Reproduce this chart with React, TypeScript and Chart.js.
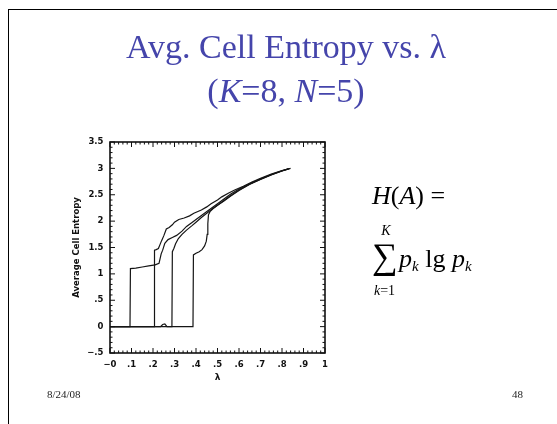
import React, { useEffect, useRef } from "react";
import { Chart, registerables } from "chart.js";

Chart.register(...registerables);

// Run A: jumps near lambda 0.093
const lambdaA = [0, 0.093, 0.095, 0.12, 0.15, 0.18, 0.21, 0.228, 0.238, 0.245, 0.255, 0.27, 0.29, 0.31, 0.335, 0.356, 0.38, 0.4, 0.43, 0.46, 0.5, 0.53, 0.56, 0.6, 0.65, 0.7, 0.75, 0.8, 0.835];
const entropyA = [0, 0, 1.1, 1.11, 1.13, 1.15, 1.17, 1.2, 1.38, 1.45, 1.58, 1.65, 1.69, 1.73, 1.81, 1.9, 1.97, 2.03, 2.12, 2.21, 2.33, 2.42, 2.51, 2.61, 2.71, 2.8, 2.885, 2.955, 2.995];

// Run B: jumps near lambda 0.205 (top branch)
const lambdaB = [0, 0.205, 0.207, 0.215, 0.225, 0.232, 0.24, 0.25, 0.262, 0.275, 0.29, 0.3, 0.32, 0.345, 0.37, 0.39, 0.425, 0.45, 0.47, 0.5, 0.52, 0.55, 0.58, 0.62, 0.66, 0.7, 0.75, 0.8, 0.84];
const entropyB = [0, 0, 1.45, 1.46, 1.48, 1.55, 1.63, 1.72, 1.85, 1.88, 1.93, 1.98, 2.03, 2.06, 2.1, 2.15, 2.21, 2.27, 2.33, 2.4, 2.46, 2.53, 2.59, 2.66, 2.74, 2.81, 2.89, 2.96, 3.0];

// Run C: small bump near 0.25, jumps near 0.29
const lambdaC = [0, 0.235, 0.245, 0.255, 0.265, 0.288, 0.29, 0.297, 0.305, 0.318, 0.335, 0.356, 0.38, 0.4, 0.425, 0.45, 0.475, 0.5, 0.53, 0.56, 0.6, 0.65, 0.7, 0.75, 0.8, 0.83];
const entropyC = [0, 0, 0.04, 0.05, 0, 0, 1.42, 1.48, 1.57, 1.67, 1.75, 1.83, 1.91, 1.98, 2.07, 2.15, 2.23, 2.3, 2.38, 2.47, 2.58, 2.7, 2.79, 2.875, 2.95, 2.99];

// Run D: jumps near 0.388
const lambdaD = [0, 0.386, 0.388, 0.4, 0.415, 0.428, 0.44, 0.448, 0.452, 0.455, 0.458, 0.465, 0.48, 0.5, 0.53, 0.56, 0.6, 0.65, 0.7, 0.75, 0.8, 0.83];
const entropyD = [0, 0, 1.36, 1.39, 1.42, 1.46, 1.53, 1.62, 1.75, 1.95, 2.12, 2.18, 2.24, 2.3, 2.39, 2.48, 2.59, 2.7, 2.795, 2.88, 2.95, 2.99];

const xTickValues = [0, 0.1, 0.2, 0.3, 0.4, 0.5, 0.6, 0.7, 0.8, 0.9, 1];
const xTickLabels = ["−0", ".1", ".2", ".3", ".4", ".5", ".6", ".7", ".8", ".9", "1"];
const yTickValues = [-0.5, 0, 0.5, 1, 1.5, 2, 2.5, 3, 3.5];
const yTickLabels = ["−.5", "0", ".5", "1", "1.5", "2", "2.5", "3", "3.5"];
const xMinorStep = 0.02;
const yMinorStep = 0.1;

const toPoints = (xs: number[], ys: number[]) => xs.map((x, i) => ({ x, y: ys[i] }));

function labelFor(values: number[], labels: string[], v: number) {
  const i = values.findIndex((t) => Math.abs(t - v) < 1e-6);
  return i >= 0 ? labels[i] : "";
}

const frameTicksPlugin = {
  id: "frameTicks",
  afterDatasetsDraw(chart: any) {
    const { ctx, chartArea, scales } = chart;
    const xs = scales.x;
    const ys = scales.y;
    const { left, right, top, bottom } = chartArea;
    ctx.save();
    ctx.strokeStyle = "#111";
    ctx.lineWidth = 1;
    ctx.beginPath();
    const nx = Math.round((xs.max - xs.min) / xMinorStep);
    for (let i = 0; i <= nx; i++) {
      const p = xs.getPixelForValue(xs.min + i * xMinorStep);
      const len = i % 5 === 0 ? 5 : 2.5;
      ctx.moveTo(p, bottom);
      ctx.lineTo(p, bottom - len);
      ctx.moveTo(p, top);
      ctx.lineTo(p, top + len);
    }
    const ny = Math.round((ys.max - ys.min) / yMinorStep);
    for (let i = 0; i <= ny; i++) {
      const p = ys.getPixelForValue(ys.min + i * yMinorStep);
      const len = i % 5 === 0 ? 5 : 2.5;
      ctx.moveTo(left, p);
      ctx.lineTo(left + len, p);
      ctx.moveTo(right, p);
      ctx.lineTo(right - len, p);
    }
    ctx.stroke();
    ctx.lineWidth = 1.6;
    ctx.strokeRect(left, top, right - left, bottom - top);
    ctx.restore();
  },
};

const serif = '"Liberation Serif", "Times New Roman", serif';

export default function App() {
  const ref = useRef<HTMLCanvasElement>(null);

  useEffect(() => {
    const series = [
      toPoints(lambdaA, entropyA),
      toPoints(lambdaB, entropyB),
      toPoints(lambdaC, entropyC),
      toPoints(lambdaD, entropyD),
    ];
    const tickFont = { family: '"DejaVu Sans", sans-serif', size: 8.5, weight: "bold" as const };
    const chart = new Chart(ref.current!, {
      type: "scatter",
      data: {
        datasets: series.map((data) => ({
          data,
          showLine: true,
          borderColor: "#151515",
          borderWidth: 1.2,
          pointRadius: 0,
          tension: 0,
          fill: false,
        })),
      },
      options: {
        animation: false,
        responsive: true,
        maintainAspectRatio: false,
        layout: { padding: { left: 0, right: 25, top: 12, bottom: 1 } },
        plugins: { legend: { display: false }, tooltip: { enabled: false } },
        scales: {
          x: {
            type: "linear",
            min: 0,
            max: 1,
            grid: { display: false, drawTicks: false },
            border: { display: false },
            afterBuildTicks: (scale: any) => {
              scale.ticks = xTickValues.map((value) => ({ value }));
            },
            afterFit: (scale: any) => {
              scale.height = 38;
            },
            ticks: {
              autoSkip: false,
              maxRotation: 0,
              padding: 7,
              color: "#111",
              font: tickFont,
              callback: (v: any) => labelFor(xTickValues, xTickLabels, Number(v)),
            },
            title: {
              display: true,
              text: "λ",
              color: "#111",
              font: { family: '"DejaVu Sans", sans-serif', size: 9, weight: "bold" },
              padding: { top: 0, bottom: 7.6 },
            },
          },
          y: {
            type: "linear",
            min: -0.5,
            max: 3.5,
            grid: { display: false, drawTicks: false },
            border: { display: false },
            afterBuildTicks: (scale: any) => {
              scale.ticks = yTickValues.map((value) => ({ value }));
            },
            afterFit: (scale: any) => {
              scale.width = 50;
            },
            ticks: {
              autoSkip: false,
              padding: 6.5,
              color: "#111",
              font: tickFont,
              callback: (v: any) => labelFor(yTickValues, yTickLabels, Number(v)),
            },
            title: {
              display: true,
              text: "Average Cell Entropy",
              color: "#111",
              font: { family: '"DejaVu Sans", sans-serif', size: 8.5, weight: "bold" },
              padding: { top: 11.6, bottom: 0 },
            },
          },
        },
      },
      plugins: [frameTicksPlugin],
    });
    return () => chart.destroy();
  }, []);

  const abs = (s: React.CSSProperties): React.CSSProperties => ({ position: "fixed", margin: 0, whiteSpace: "nowrap", ...s });

  return (
    <div>
      <div
        style={abs({
          left: 8,
          top: 9,
          right: -20,
          bottom: -20,
          borderTop: "1px solid #000",
          borderLeft: "1px solid #000",
          background: "#fff",
        })}
      />
      <div
        style={abs({
          left: 0,
          top: 25,
          width: 572,
          textAlign: "center",
          fontFamily: serif,
          fontSize: 34,
          lineHeight: "44px",
          color: "#4545ab",
        })}
      >
        <div>Avg. Cell Entropy vs. λ</div>
        <div>
          (<i>K</i>=8, <i>N</i>=5)
        </div>
      </div>

      <div style={abs({ left: 60, top: 130, width: 290, height: 262 })}>
        <canvas ref={ref} />
      </div>

      <div style={abs({ left: 372, top: 183, fontFamily: serif, fontSize: 26, lineHeight: "26px", color: "#000" })}>
        <i>H</i>(<i>A</i>) =
      </div>
      <div style={abs({ left: 372, top: 238, fontFamily: serif, fontSize: 36, lineHeight: "36px", color: "#000" })}>∑</div>
      <div style={abs({ left: 380, top: 224, width: 12, textAlign: "center", fontFamily: serif, fontSize: 14, lineHeight: "14px", fontStyle: "italic", color: "#000" })}>K</div>
      <div style={abs({ left: 374, top: 284, fontFamily: serif, fontSize: 14, lineHeight: "14px", color: "#000" })}>
        <i>k</i>=1
      </div>
      <div style={abs({ left: 399, top: 246, fontFamily: serif, fontSize: 26, lineHeight: "26px", color: "#000" })}>
        <i>p</i>
        <sub style={{ fontSize: 15, verticalAlign: "-4px", fontStyle: "italic" }}>k</sub> lg <i>p</i>
        <sub style={{ fontSize: 15, verticalAlign: "-4px", fontStyle: "italic" }}>k</sub>
      </div>

      <div style={abs({ left: 47, top: 389, fontFamily: serif, fontSize: 11, lineHeight: "11px", color: "#222" })}>8/24/08</div>
      <div style={abs({ left: 512, top: 389, fontFamily: serif, fontSize: 11, lineHeight: "11px", color: "#222" })}>48</div>
    </div>
  );
}
